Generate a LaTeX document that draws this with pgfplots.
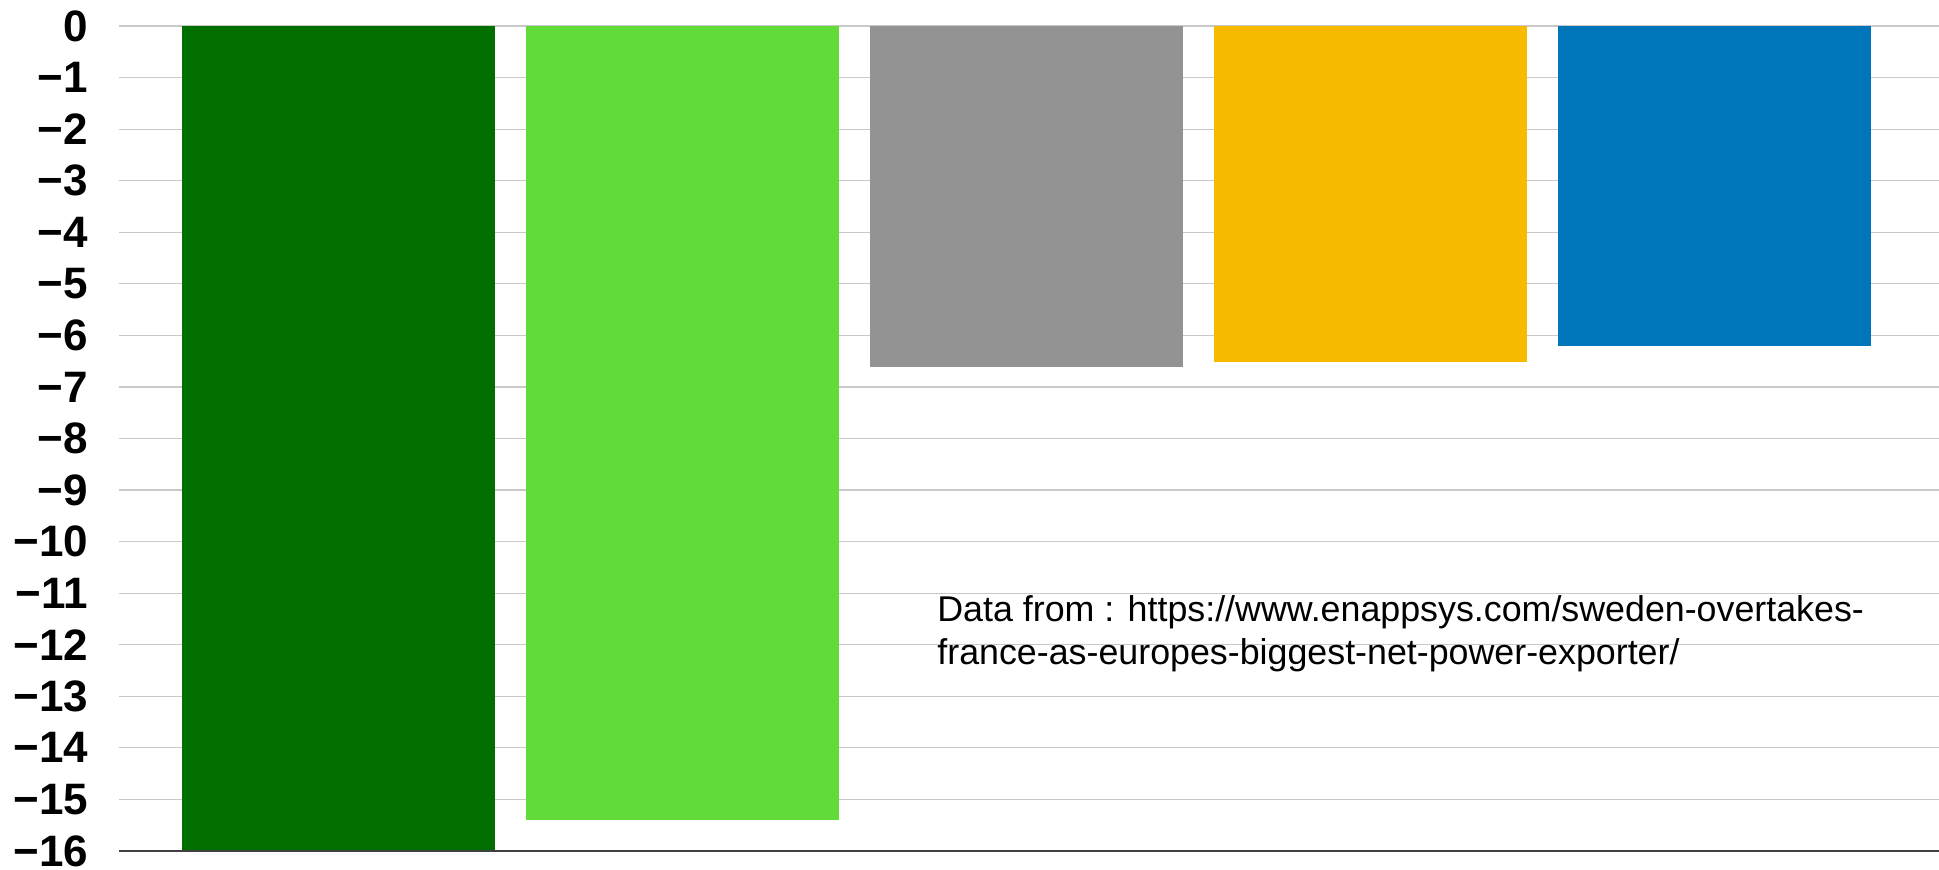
\documentclass[border=0pt]{standalone}
\usepackage{pgfplots}
\pgfplotsset{compat=1.18}
\usepackage{fontspec}
\setmainfont{Liberation Sans}
\definecolor{cdgreen}{HTML}{006F00}
\definecolor{clgreen}{HTML}{60DB38}
\definecolor{cgray}{HTML}{939393}
\definecolor{cyellow}{HTML}{F7BA00}
\definecolor{cblue}{HTML}{0075BA}
\definecolor{cgrid}{HTML}{C8C8C8}
\begin{document}
\begin{tikzpicture}
\useasboundingbox (-59.5pt,-9.5pt) rectangle (910pt,425.5pt);
\begin{axis}[
  scale only axis,
  width=910pt, height=412.5pt,
  xmin=-0.638, xmax=4.653,
  ymin=-16, ymax=0,
  axis line style={draw=none},
  xtick=\empty,
  ytick={-16,-15,-14,-13,-12,-11,-10,-9,-8,-7,-6,-5,-4,-3,-2,-1,0},
  yticklabels={−16,−15,−14,−13,−12,−11,−10,−9,−8,−7,−6,−5,−4,−3,−2,−1,0},
  major tick length=0pt,
  ymajorgrids,
  grid style={cgrid, line width=0.6pt},
  yticklabel style={anchor=east, inner sep=0pt, xshift=-15.3pt, font=\bfseries\fontsize{22}{22}\selectfont},
  clip=false,
]
\addplot[ybar, bar shift=0pt, bar width=156.5pt, fill=cdgreen, draw=none] coordinates {(0,-16)};
\addplot[ybar, bar shift=0pt, bar width=156.5pt, fill=clgreen, draw=none] coordinates {(1,-15.4)};
\addplot[ybar, bar shift=0pt, bar width=156.5pt, fill=cgray, draw=none] coordinates {(2,-6.61)};
\addplot[ybar, bar shift=0pt, bar width=156.5pt, fill=cyellow, draw=none] coordinates {(3,-6.52)};
\addplot[ybar, bar shift=0pt, bar width=156.5pt, fill=cblue, draw=none] coordinates {(4,-6.2)};
\draw[color=black!75, line width=0.8pt] (rel axis cs:0,0) -- (rel axis cs:1,0);
\node[anchor=base west, inner sep=0pt, font=\fontsize{17.9}{21.5}\selectfont] at (axis cs:1.74,-11.54) {Data from : https://www.enappsys.com/sweden-overtakes-};
\node[anchor=base west, inner sep=0pt, font=\fontsize{17.9}{21.5}\selectfont] at (axis cs:1.74,-12.374) {france-as-europes-biggest-net-power-exporter/};
\end{axis}
\end{tikzpicture}
\end{document}
